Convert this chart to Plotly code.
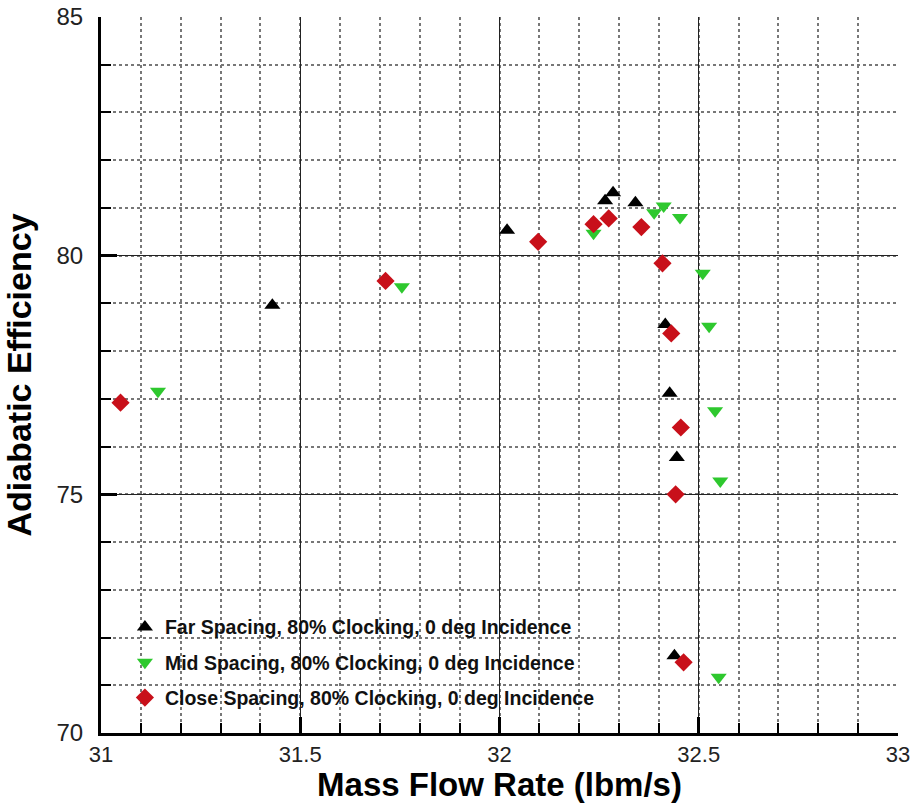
import plotly.graph_objects as go

# Mass flow rate (lbm/s) and adiabatic efficiency (%) for each blade-row spacing
far_flow = [31.430, 32.019, 32.265, 32.285, 32.341, 32.416, 32.427, 32.445, 32.439]
far_eff = [78.96, 80.53, 81.15, 81.32, 81.11, 78.56, 77.12, 75.77, 71.62]

mid_flow = [31.143, 31.755, 32.236, 32.388, 32.412, 32.453, 32.510, 32.526, 32.541, 32.554, 32.550]
mid_eff = [77.16, 79.35, 80.47, 80.90, 81.04, 80.80, 79.63, 78.52, 76.75, 75.28, 71.17]

close_flow = [31.049, 31.714, 32.097, 32.236, 32.274, 32.356, 32.409, 32.431, 32.455, 32.442, 32.462]
close_eff = [76.92, 79.47, 80.29, 80.66, 80.78, 80.60, 79.84, 78.37, 76.40, 75.00, 71.48]

x_ticks = [31, 31.5, 32, 32.5, 33]
y_ticks = [70, 75, 80, 85]

FONT = "Liberation Sans, Arial, sans-serif"

fig = go.Figure()
fig.add_trace(go.Scatter(
    x=far_flow, y=far_eff, mode="markers", name="Far Spacing, 80% Clocking, 0 deg Incidence",
    legendgroup="far",
    marker=dict(symbol="triangle-up", size=14, color="#000000"),
))
fig.add_trace(go.Scatter(
    x=mid_flow, y=mid_eff, mode="markers", name="Mid Spacing, 80% Clocking, 0 deg Incidence",
    legendgroup="mid",
    marker=dict(symbol="triangle-down", size=14, color="#2ec82e"),
))
fig.add_trace(go.Scatter(
    x=close_flow, y=close_eff, mode="markers", name="Close Spacing, 80% Clocking, 0 deg Incidence",
    legendgroup="close",
    marker=dict(symbol="diamond", size=14, color="#c8101a"),
))

axis_common = dict(
    showline=True, linecolor="#000000", linewidth=3, mirror=False,
    ticks="inside", ticklen=16, tickwidth=3, tickcolor="#000000",
    showgrid=True, gridcolor="#222222", gridwidth=1,
    zeroline=False, automargin=False,
)

fig.update_xaxes(
    range=[31, 33], tickvals=x_ticks, ticktext=[str(v) for v in x_ticks],
    ticklabelstandoff=0,
    tickfont=dict(family=FONT, size=22, color="#222222"),
    minor=dict(dtick=0.1, ticks="inside", ticklen=10, tickwidth=1.5, tickcolor="#000000",
               showgrid=True, griddash="dot", gridcolor="#777777", gridwidth=1.5),
    title=dict(text="<b>Mass Flow Rate (lbm/s)</b>", font=dict(family=FONT, size=33, color="#000000")),
    **axis_common,
)
fig.update_yaxes(
    range=[70, 85], tickvals=y_ticks, ticktext=[str(v) for v in y_ticks],
    ticklabelstandoff=10,
    tickfont=dict(family=FONT, size=24, color="#222222"),
    minor=dict(dtick=1, ticks="inside", ticklen=10, tickwidth=1.5, tickcolor="#000000",
               showgrid=True, griddash="dot", gridcolor="#777777", gridwidth=1.5),
    title=dict(text="<b>Adiabatic Efficiency</b>", font=dict(family=FONT, size=34, color="#000000")),
    **axis_common,
)

fig.update_layout(
    width=917, height=803,
    margin=dict(l=101, r=19, t=17, b=70),
    paper_bgcolor="#ffffff", plot_bgcolor="#ffffff",
    showlegend=True,
    legend=dict(
        x=0.03, y=0.175, xanchor="left", yanchor="top",
        bgcolor="rgba(0,0,0,0)", borderwidth=0,
        font=dict(family=FONT, size=19.5, color="#111111", weight="bold"),
        tracegroupgap=7, itemwidth=30,
    ),
    font=dict(family=FONT),
)

fig.write_html("out.html")
